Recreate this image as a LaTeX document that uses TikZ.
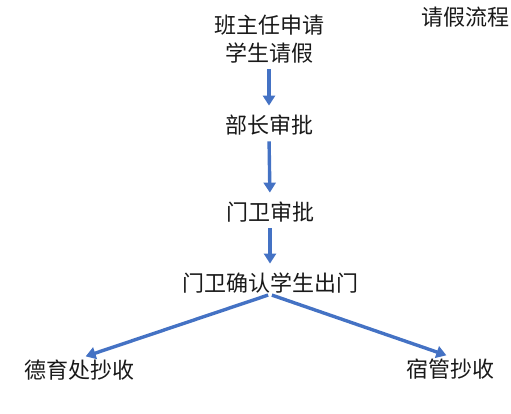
\documentclass[tikz,border=0pt]{standalone}
\usepackage{fontspec}
\setmainfont{Noto Sans CJK SC}
\usetikzlibrary{arrows.meta, positioning}
\definecolor{flowBlue}{RGB}{68,114,196}
\definecolor{ink}{RGB}{25,25,25}

\begin{document}
\begin{tikzpicture}[x=1pt, y=-1pt,
  stepnode/.style={font=\fontsize{22}{28}\selectfont, text=ink, align=center, inner sep=1pt},
  arr/.style={-{Triangle[length=10pt, width=12pt]}, line width=3.4pt, draw=flowBlue}
]
\useasboundingbox (0,0) rectangle (511,414);
\node[stepnode] (title) at (465,17) {请假流程};
\foreach \name/\x/\y/\txt in {
  apply/269/39/{班主任申请\\学生请假},
  approve/269/125/{部长审批},
  guard/270/212/{门卫审批},
  confirm/270/283/{门卫确认学生出门},
  moral/79/370/{德育处抄收},
  dorm/453/369/{宿管抄收}
}{
  \node[stepnode] (\name) at (\x,\y) {\txt};
}
\foreach \i/\j in {apply/approve,approve/guard,guard/confirm}{
  \draw[arr, shorten <=5pt, shorten >=8pt] (\i.south) -- (\j.north);
}
\draw[arr, shorten <=2pt, shorten >=7pt] (confirm.south) -- (moral.north);
\draw[arr, shorten <=2pt, shorten >=7pt] (confirm.south) -- (dorm.north);
\end{tikzpicture}
\end{document}
